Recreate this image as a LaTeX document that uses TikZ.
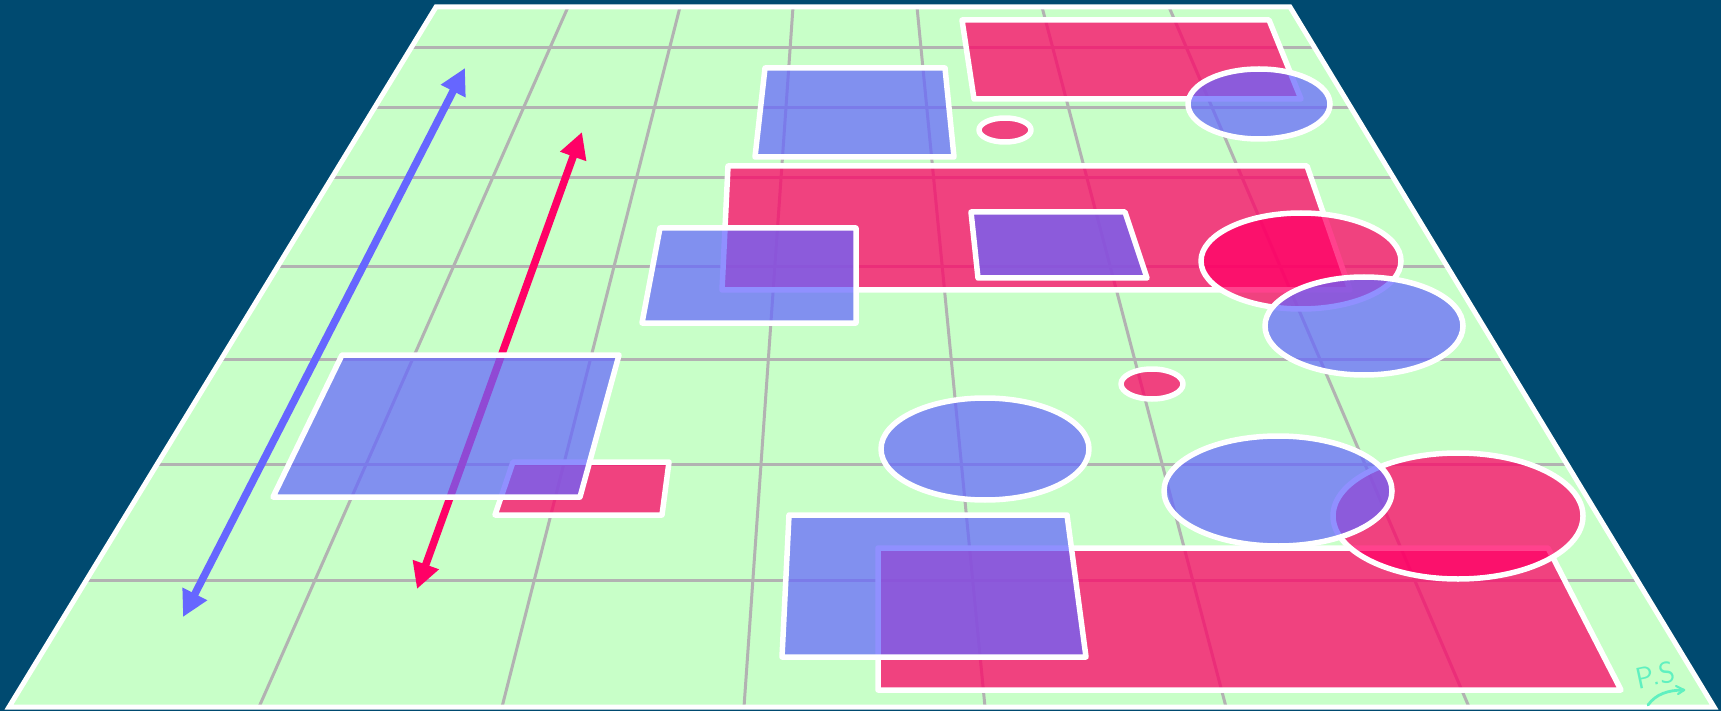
\documentclass[tikz,border=0pt]{standalone}
\usetikzlibrary{arrows.meta}
\definecolor{bgblue}{RGB}{0,74,112}
\definecolor{board}{RGB}{200,255,200}
\definecolor{gridgray}{RGB}{178,178,178}
\definecolor{hotred}{RGB}{255,0,102}
\definecolor{softblue}{RGB}{102,102,255}
\definecolor{sig}{RGB}{96,240,192}
\begin{document}
\begin{tikzpicture}[x=1pt,y=-1pt,
  redshape/.style={fill=hotred, fill opacity=0.74, draw=white, draw opacity=1, line width=5.5pt, line join=round},
  blueshape/.style={fill=softblue, fill opacity=0.72, draw=white, draw opacity=1, line width=5.5pt, line join=round},
  gridline/.style={draw=gridgray, line width=3pt},
  arrowline/.style={line width=7.5pt, {Triangle[length=26pt,width=26pt]}-{Triangle[length=26pt,width=26pt]}}]
\fill[bgblue] (0,0) rectangle (1721,711);
\path[use as bounding box] (0,0) rectangle (1721,711);
% board
\coordinate (TL) at (436,7);
\coordinate (TR) at (1290,7);
\coordinate (BR) at (1714,707);
\coordinate (BL) at (9,707);
\fill[board] (TL)--(TR)--(BR)--(BL)--cycle;
\begin{scope}
\clip (TL)--(TR)--(BR)--(BL)--cycle;
\foreach \y in {48,108,178,267,359,464,580} \draw[gridline] (0,\y) -- (1721,\y);
\foreach \a/\b in {568/259,680/502,793/744,917/985,1042/1226,1169/1469} \draw[gridline] (\a,7) -- (\b,707);
\end{scope}
\draw[white, line width=5pt] (TL)--(TR)--(BR)--(BL)--cycle;
% arrows
\coordinate (b1) at (183,617);
\coordinate (b2) at (465,68);
\draw[arrowline, softblue] (b1) -- (b2);
\coordinate (r1) at (417,589);
\coordinate (r2) at (582,132);
\draw[arrowline, hotred] (r1) -- (r2);
% top group
\draw[redshape] (962,20)--(1269,20)--(1301,99)--(974,99)--cycle;
\draw[blueshape] (1259,104) ellipse [x radius=71pt, y radius=35pt];
\draw[redshape] (1005,130) ellipse [x radius=26pt, y radius=12pt];
\draw[blueshape] (765,68)--(945,68)--(954,157)--(755,157)--cycle;
% middle group
\draw[redshape] (728,166)--(1307,166)--(1350,290)--(722,290)--cycle;
\draw[blueshape] (660,228)--(856,228)--(856,323)--(642,323)--cycle;
\draw[blueshape] (971,212)--(1125,212)--(1147,278)--(978,278)--cycle;
\draw[redshape] (1301,261) ellipse [x radius=100pt, y radius=48pt];
\draw[blueshape] (1364,326) ellipse [x radius=99pt, y radius=49pt];
\draw[redshape] (1152,384) ellipse [x radius=31pt, y radius=15pt];
\draw[blueshape] (985,449) ellipse [x radius=104pt, y radius=51pt];
% left group
\draw[redshape] (513,462)--(669,462)--(662,515)--(495,515)--cycle;
\draw[blueshape] (342,355)--(619,355)--(580,497)--(273,497)--cycle;
% bottom group
\draw[redshape] (878,548)--(1548,548)--(1621,690)--(878,690)--cycle;
\draw[blueshape] (789,515)--(1067,515)--(1086,657)--(782,657)--cycle;
\draw[redshape] (1458,516) ellipse [x radius=125pt, y radius=63pt];
\draw[blueshape] (1278,491) ellipse [x radius=114pt, y radius=55pt];
% signature
\node[text=sig, rotate=12, font=\fontsize{30}{30}\selectfont\sffamily, inner sep=0pt] (ps) at (1655,675) {P.S};
\draw[sig, line width=2.8pt, line cap=round, line join=round] (1648,705) .. controls (1656,694) and (1668,690) .. (1684,690);
\draw[sig, line width=2.2pt, line cap=round, line join=round] (1676,686) -- (1684,690) -- (1678,694);
\end{tikzpicture}
\end{document}
